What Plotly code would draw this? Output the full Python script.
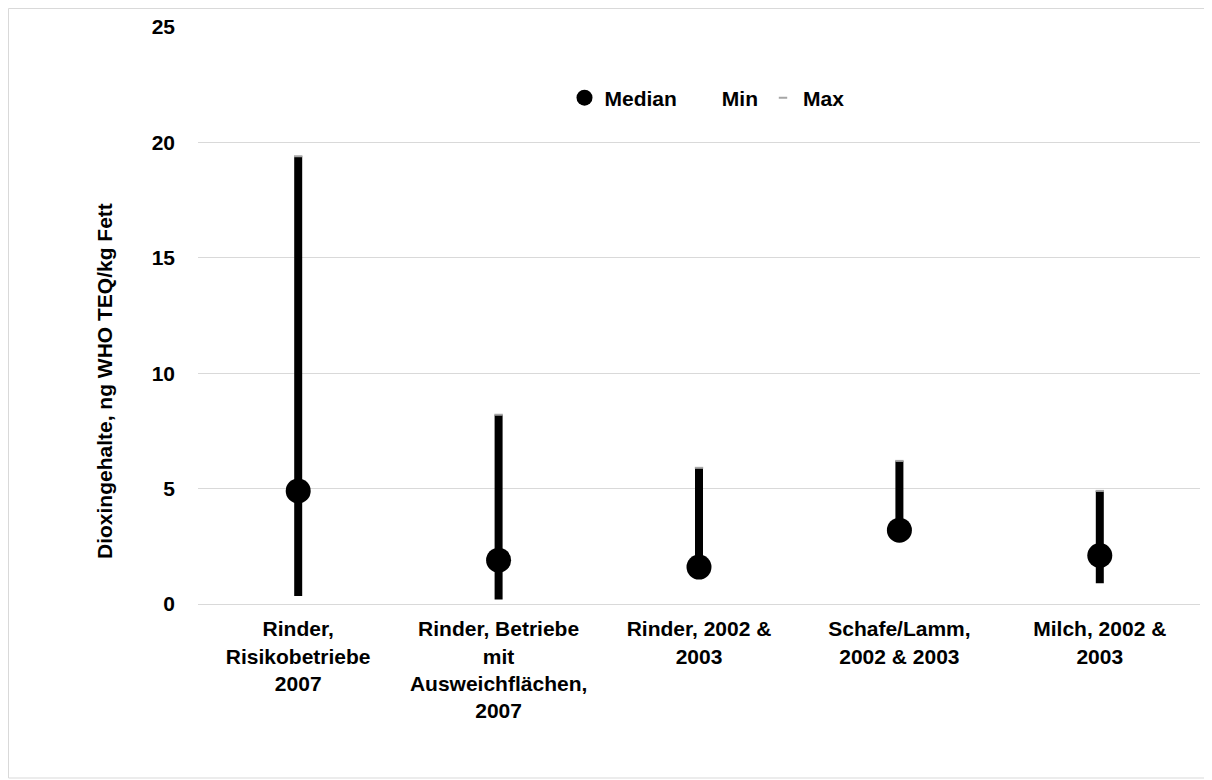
import plotly.graph_objects as go

categories = [
    "Rinder,<br>Risikobetriebe<br>2007",
    "Rinder, Betriebe<br>mit<br>Ausweichflächen,<br>2007",
    "Rinder, 2002 &<br>2003",
    "Schafe/Lamm,<br>2002 & 2003",
    "Milch, 2002 &<br>2003",
]
median_vals = [4.9, 1.9, 1.6, 3.2, 2.1]
min_vals = [0.35, 0.2, 1.2, 2.8, 0.9]
max_vals = [19.4, 8.2, 5.9, 6.2, 4.9]
y_ticks = [0, 5, 10, 15, 20, 25]
y_title = "Dioxingehalte, ng WHO TEQ/kg Fett"

FONT = "Liberation Sans, Arial, sans-serif"

# high-low line segments built from data
seg_x, seg_y = [], []
for c, lo, hi in zip(categories, min_vals, max_vals):
    seg_x += [c, c, None]
    seg_y += [lo, hi, None]

fig = go.Figure()
fig.add_trace(go.Scatter(
    x=seg_x, y=seg_y, mode="lines",
    line=dict(color="black", width=8),
    showlegend=False, hoverinfo="skip",
))
fig.add_trace(go.Scatter(
    x=categories, y=median_vals, mode="markers", name="Median",
    marker=dict(symbol="circle", size=25, color="black"),
))
fig.add_trace(go.Scatter(
    x=categories, y=min_vals, mode="markers", name="Min",
    marker=dict(symbol="line-ew", size=6, color="rgba(0,0,0,0)",
                line=dict(width=1, color="rgba(0,0,0,0)")),
))
fig.add_trace(go.Scatter(
    x=categories, y=max_vals, mode="markers", name="Max",
    marker=dict(symbol="line-ew", size=6, color="#a6a6a6",
                line=dict(width=2, color="#a6a6a6")),
))

# page has an 8px body margin; figure is sized so the plot lands where the reference has it
OFF = 8
W, H = 1212 - OFF, 780 - OFF
L, R, T = 190, 12, 19
pw = W - L - R          # 1002
ph = 577
B = H - T - ph

def px_x(p):
    return (p - OFF - L) / pw

def px_y(p):
    return (OFF + T + ph - p) / ph

fig.add_shape(type="rect", xref="paper", yref="paper",
              x0=px_x(8.5), x1=px_x(1210), y0=px_y(778), y1=px_y(8.5),
              line=dict(color="#d9d9d9", width=1), layer="below")

fig.add_annotation(
    text=y_title, textangle=-90, showarrow=False,
    xref="paper", yref="paper", x=px_x(105), y=px_y(381),
    xanchor="center", yanchor="middle",
    font=dict(family=FONT, size=21, color="black", weight="bold"),
)

fig.update_layout(
    width=W, height=H,
    margin=dict(l=L, r=R, t=T, b=B, autoexpand=False),
    paper_bgcolor="white", plot_bgcolor="white",
    font=dict(family=FONT, size=21, color="black"),
    legend=dict(orientation="h", x=px_x(707), xanchor="center",
                y=px_y(98), yanchor="middle",
                font=dict(family=FONT, size=21, color="black", weight="bold"),
                itemwidth=30, bgcolor="rgba(0,0,0,0)"),
    xaxis=dict(
        range=[-0.5, len(categories) - 0.5], automargin=False,
        showgrid=False, showline=True, linecolor="#d9d9d9", linewidth=1,
        tickfont=dict(family=FONT, size=21, color="black", weight="bold"),
        ticks="", ticklabelstandoff=6,
    ),
    yaxis=dict(
        range=[0, 25], tickvals=y_ticks, automargin=False,
        showgrid=True, gridcolor="#d9d9d9", gridwidth=1,
        zeroline=True, zerolinecolor="#d9d9d9",
        showline=False, ticks="",
        tickfont=dict(family=FONT, size=21, color="black", weight="bold"),
        ticklabelstandoff=22,
    ),
)

fig.write_html("out.html")
